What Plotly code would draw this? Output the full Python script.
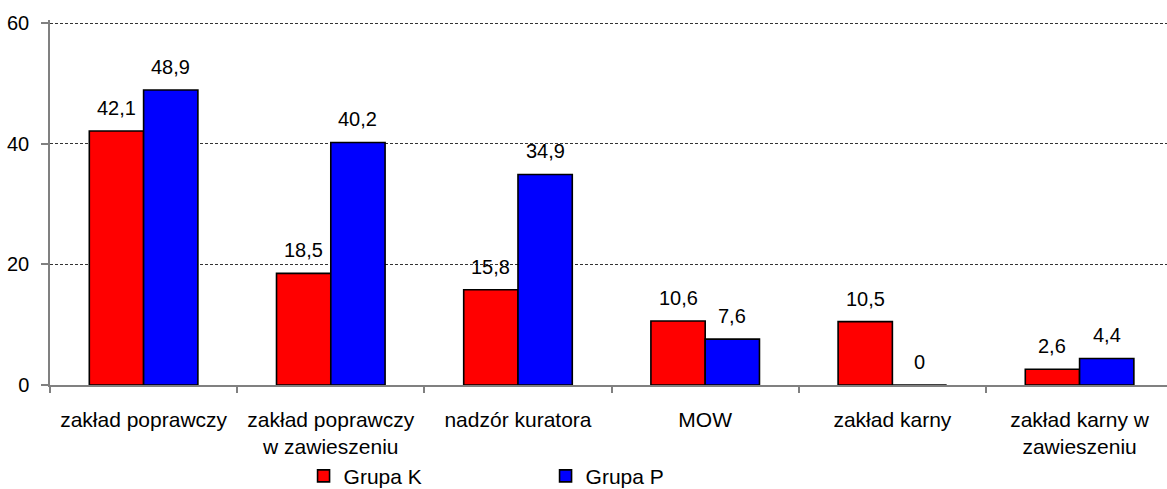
import plotly.graph_objects as go

categories = ["zakład poprawczy", "zakład poprawczy<br>w zawieszeniu", "nadzór kuratora",
              "MOW", "zakład karny", "zakład karny w<br>zawieszeniu"]
grupa_k = [42.1, 18.5, 15.8, 10.6, 10.5, 2.6]
grupa_p = [48.9, 40.2, 34.9, 7.6, 0, 4.4]
y_ticks = [0, 20, 40, 60]

FONT = "Arial, Liberation Sans, sans-serif"
FS = 20
FS_TXT = 21
BARGAP = 0.42
half = (1 - BARGAP) / 4  # center offset of each bar within group, in category units

def fmt(v):
    return ("%g" % v).replace(".", ",")

fig = go.Figure()
fig.add_trace(go.Bar(name="Grupa K", x=categories, y=grupa_k,
                     marker=dict(color="#FF0000", line=dict(color="black", width=1.6))))
fig.add_trace(go.Bar(name="Grupa P", x=categories, y=grupa_p,
                     marker=dict(color="#0000FF", line=dict(color="black", width=1.6))))

annotations = []
for i, (k, p) in enumerate(zip(grupa_k, grupa_p)):
    for v, dx in ((k, -half), (p, half)):
        annotations.append(dict(x=i + dx, y=v, xref="x", yref="y", text=fmt(v),
                                showarrow=False, yanchor="bottom", yshift=10,
                                font=dict(family=FONT, size=FS, color="black")))

fig.update_layout(
    width=1167, height=489,
    margin=dict(l=50, r=0, t=20, b=104, autoexpand=False),
    paper_bgcolor="white", plot_bgcolor="white",
    barmode="group", bargap=BARGAP, bargroupgap=0,
    font=dict(family=FONT, size=FS, color="black"),
    annotations=annotations,
    showlegend=True,
    legend=dict(orientation="h", x=0.227, xanchor="left", y=-0.25, yanchor="middle",
                entrywidth=197, entrywidthmode="pixels",
                font=dict(family=FONT, size=FS_TXT, color="black"),
                bgcolor="rgba(0,0,0,0)"),
)
fig.update_xaxes(
    type="category", range=[-0.5, 5.467], automargin=False,
    showline=True, linecolor="#808080", linewidth=1.5,
    ticks="outside", tickson="boundaries", ticklen=6, tickcolor="#808080", tickwidth=1.5,
    ticklabelstandoff=15, showgrid=False,
    tickfont=dict(family=FONT, size=FS_TXT, color="black"),
)
fig.update_yaxes(
    range=[0, 60.5], tickvals=y_ticks, automargin=False,
    showline=True, linecolor="#808080", linewidth=1.5,
    ticks="outside", ticklen=7, tickcolor="#808080", tickwidth=1.5,
    ticklabelstandoff=8,
    showgrid=True, gridcolor="#333333", gridwidth=1, griddash="3px,2px",
    zeroline=False,
    tickfont=dict(family=FONT, size=FS, color="black"),
)

fig.write_html("out.html", config={"displayModeBar": False},
               post_script="document.body.style.margin='0';document.body.style.padding='0';")
